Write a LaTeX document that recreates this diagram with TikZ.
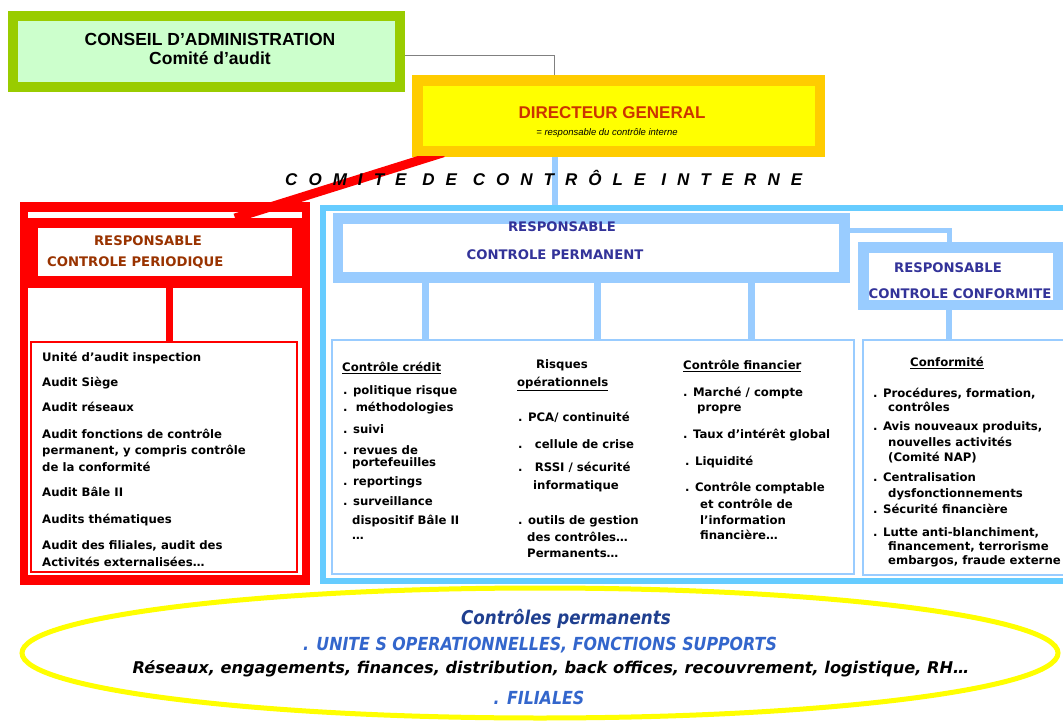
\documentclass[tikz,border=0pt]{standalone}
\usepackage{fontspec}
\setmainfont{DejaVu Sans}
\newfontfamily\arialf{Liberation Sans}
\newfontfamily\spacedf[LetterSpace=65]{Liberation Sans}
\newfontfamily\djc[FakeStretch=0.88]{DejaVu Sans}
\usetikzlibrary{shapes.geometric}
\definecolor{cagreen}{HTML}{99CC00}
\definecolor{cafill}{HTML}{CCFFCC}
\definecolor{dgborder}{HTML}{FFCC00}
\definecolor{dgfill}{HTML}{FFFF00}
\definecolor{dgtext}{HTML}{CC3300}
\definecolor{pred}{HTML}{FF0000}
\definecolor{rptext}{HTML}{993300}
\definecolor{bframe}{HTML}{66CCFF}
\definecolor{bbox}{HTML}{99CCFF}
\definecolor{btext}{HTML}{333399}
\definecolor{eltitle}{HTML}{1F3F8F}
\definecolor{elblue}{HTML}{3366CC}
\newcommand{\myfs}[1]{\fontsize{#1}{#1}\selectfont}
\tikzset{
  plain/.style={inner sep=0pt, outer sep=0pt},
  thickbox/.style={line width=10.5pt, inner sep=0pt},
  listtxt/.style={anchor=west, inner sep=0pt, font=\bfseries\myfs{11.7}, text height=8.8pt, text depth=2.4pt},
  headtxt/.style={inner sep=0pt, font=\bfseries\myfs{13.2}, text height=9.8pt, text depth=2.6pt},
  bcon/.style={draw=bbox, line width=7pt},
}
\begin{document}
\begin{tikzpicture}[x=1pt,y=-1pt]
\useasboundingbox (0,0) rectangle (1063,722);

% big blue frame
\node[draw=bframe, line width=6pt, minimum width=760pt, minimum height=372.5pt, inner sep=0pt] (bigframe) at (702.5,394.25) {};

% red frame
\node[plain, fill=pred, minimum width=290pt, minimum height=383pt] (pframe) at (165,393.5) {};
\fill[white] (28,212) rectangle (302,218);
\fill[white] (28,288) rectangle (302,575);
\node[plain, fill=white, minimum width=254pt, minimum height=48pt] (rp) at (165,252) {};
\node[draw=pred, line width=1.5pt, minimum width=266pt, minimum height=230pt, inner sep=0pt] (alist) at (164,457) {};
\draw[pred, line width=7pt] ([xshift=4.5pt]rp.south) -- ([xshift=4.5pt]rp.south |- alist.north);

% top boxes
\node[draw=cagreen, fill=cafill, thickbox, minimum width=387pt, minimum height=71pt] (ca) at (206.5,51.5) {};
\node[draw=dgborder, fill=dgfill, thickbox, minimum width=402.5pt, minimum height=71pt] (dg) at (618.75,116) {};
\draw[gray, line width=1pt] ([yshift=-4.5pt]ca.east) -| ([xshift=-64.75pt]dg.north);
\draw[bcon, line width=6pt] ([xshift=-63.75pt]dg.south) -- ([xshift=-63.75pt]dg.south |- bigframe.north);
\begin{scope}
\clip (0,157) rectangle (1063,230);
\draw[pred, line width=9pt] ([xshift=31pt,yshift=4pt]dg.south west) -- ([xshift=215pt,yshift=-16pt]pframe.north west);
\end{scope}

% permanent boxes
\node[draw=bbox, line width=2pt, minimum width=522pt, minimum height=234pt, inner sep=0pt] (plist) at (593,457) {};
\node[draw=bbox, line width=2pt, minimum width=212pt, minimum height=235pt, inner sep=0pt] (clist) at (969,457.5) {};
\node[draw=bbox, fill=white, thickbox, minimum width=506.5pt, minimum height=59pt] (perm) at (591.25,248) {};
\node[draw=bbox, fill=white, thickbox, minimum width=194.5pt, minimum height=57.5pt] (conf) at (960.75,276.25) {};
\draw[bcon, line width=5pt] ([yshift=17.5pt]perm.east) -| ([xshift=-11.75pt]conf.north);
\draw[bcon] ([xshift=-166.25pt]perm.south) -- ([xshift=-166.25pt]perm.south |- plist.north);
\draw[bcon] ([xshift=5.75pt]perm.south) -- ([xshift=5.75pt]perm.south |- plist.north);
\draw[bcon] ([xshift=159.75pt]perm.south) -- ([xshift=159.75pt]perm.south |- plist.north);
\draw[bcon, line width=6pt] ([xshift=-11.75pt]conf.south) -- ([xshift=-11.75pt]conf.south |- clist.north);

% ellipse
\node[ellipse, draw=dgfill, line width=5pt, minimum width=1036pt, minimum height=130pt, inner sep=0pt] (ell) at (540,653) {};

% texts top
\node[font=\arialf\bfseries\myfs{17.5}, inner sep=0pt] (cat1) at (210,39) {CONSEIL D’ADMINISTRATION};
\node[font=\arialf\bfseries\myfs{17.5}, inner sep=0pt] (cat2) at (210,58) {Comité d’audit};
\node[font=\arialf\bfseries\myfs{17}, text=dgtext, inner sep=0pt] (dgt1) at (612,113) {DIRECTEUR GENERAL};
\node[font=\arialf\itshape\myfs{9.5}, inner sep=0pt] (dgt2) at (607,133) {= responsable du contrôle interne};
\node[font=\spacedf\bfseries\itshape\myfs{17}, anchor=west, inner sep=0pt] (cci) at (285,178) {COMITE DE CONTRÔLE INTERNE};

% responsable headings
\node[headtxt, text=rptext] (rpt1) at (148,242) {RESPONSABLE};
\node[headtxt, text=rptext, anchor=west] (rpt2) at (47,263) {CONTROLE PERIODIQUE};
\node[headtxt, text=btext] (pt1) at (562,228) {RESPONSABLE};
\node[headtxt, text=btext] (pt2) at (555,256) {CONTROLE PERMANENT};
\node[headtxt, text=btext] (ct1) at (948,269) {RESPONSABLE};
\node[headtxt, text=btext] (ct2) at (960,295) {CONTROLE CONFORMITE};

% audit list
\node[listtxt] (a1) at (42,358) {Unité d’audit inspection};
\node[listtxt] (a2) at (42,383) {Audit Siège};
\node[listtxt] (a3) at (42,408) {Audit réseaux};
\node[listtxt] (a4) at (42,435) {Audit fonctions de contrôle};
\node[listtxt] (a5) at (42,451) {permanent, y compris contrôle};
\node[listtxt] (a6) at (42,468) {de la conformité};
\node[listtxt] (a7) at (42,493) {Audit Bâle II};
\node[listtxt] (a8) at (42,520) {Audits thématiques};
\node[listtxt] (a9) at (42,546) {Audit des filiales, audit des};
\node[listtxt] (a10) at (42,563) {Activités externalisées…};

% column 1
\node[listtxt] (b0) at (342,368) {\underline{Contrôle crédit}};
\node[listtxt] (b1) at (343,391) {. politique risque};
\node[listtxt] (b2) at (343,408) {.\ \ méthodologies};
\node[listtxt] (b3) at (343,430) {. suivi};
\node[listtxt] (b4) at (343,451) {. revues de};
\node[listtxt] (b5) at (352,463) {portefeuilles};
\node[listtxt] (b6) at (343,482) {. reportings};
\node[listtxt] (b7) at (343,502) {. surveillance};
\node[listtxt] (b8) at (352,521) {dispositif Bâle II};
\node[listtxt] (b9) at (352,536) {…};

% column 2
\node[headtxt, font=\bfseries\myfs{11.7}] (c0) at (562,365) {Risques};
\node[listtxt] (c1) at (517,383) {\underline{opérationnels}};
\node[listtxt] (c2) at (518,418) {. PCA/ continuité};
\node[listtxt] (c3) at (518,445) {.\ \ \ cellule de crise};
\node[listtxt] (c4) at (518,468) {.\ \ \ RSSI / sécurité};
\node[listtxt] (c5) at (533,486) {informatique};
\node[listtxt] (c6) at (518,521) {. outils de gestion};
\node[listtxt] (c7) at (527,538) {des contrôles…};
\node[listtxt] (c8) at (527,554) {Permanents…};

% column 3
\node[listtxt] (d0) at (683,366) {\underline{Contrôle financier}};
\node[listtxt] (d1) at (683,393) {. Marché / compte};
\node[listtxt] (d2) at (697,408) {propre};
\node[listtxt] (d3) at (683,435) {. Taux d’intérêt global};
\node[listtxt] (d4) at (685,462) {. Liquidité};
\node[listtxt] (d5) at (685,488) {. Contrôle comptable};
\node[listtxt] (d6) at (700,505) {et contrôle de};
\node[listtxt] (d7) at (700,521) {l’information};
\node[listtxt] (d8) at (700,536) {financière…};

% column 4
\node[headtxt, font=\bfseries\myfs{11.7}] (f0) at (947,363) {\underline{Conformité}};
\node[listtxt] (f1) at (873,394) {. Procédures, formation,};
\node[listtxt] (f2) at (888,408) {contrôles};
\node[listtxt] (f3) at (873,427) {. Avis nouveaux produits,};
\node[listtxt] (f4) at (888,443) {nouvelles activités};
\node[listtxt] (f5) at (888,458) {(Comité NAP)};
\node[listtxt] (f6) at (873,478) {. Centralisation};
\node[listtxt] (f7) at (888,494) {dysfonctionnements};
\node[listtxt] (f8) at (873,510) {. Sécurité financière};
\node[listtxt] (f9) at (873,533) {. Lutte anti-blanchiment,};
\node[listtxt] (f10) at (888,547) {financement, terrorisme};
\node[listtxt] (f11) at (888,561) {embargos, fraude externe};

% ellipse texts
\node[font=\djc\bfseries\itshape\myfs{19}, text=eltitle, inner sep=0pt] (e1) at (566,619) {Contrôles permanents};
\node[font=\djc\bfseries\itshape\myfs{18}, text=elblue, inner sep=0pt] (e2) at (540,645) {. UNITE S OPERATIONNELLES, FONCTIONS SUPPORTS};
\node[font=\bfseries\itshape\myfs{16.2}, inner sep=0pt] (e3) at (551,669) {Réseaux, engagements, finances, distribution, back offices, recouvrement, logistique, RH…};
\node[font=\djc\bfseries\itshape\myfs{18}, text=elblue, inner sep=0pt] (e4) at (539,698) {. FILIALES};
\end{tikzpicture}
\end{document}
